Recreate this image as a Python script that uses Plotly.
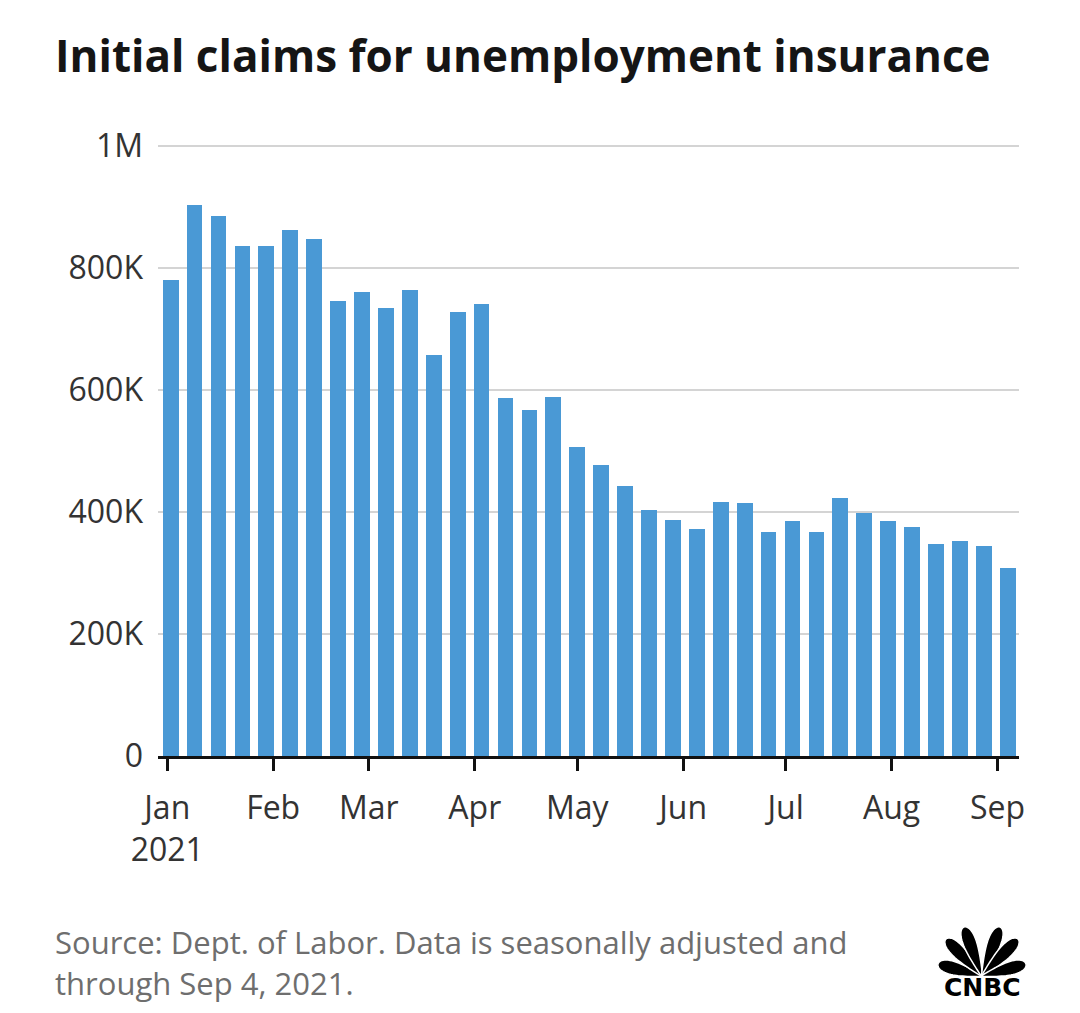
import numpy as np
import plotly.graph_objects as go

# ---- data ----
week_ending = [
    "2021-01-02", "2021-01-09", "2021-01-16", "2021-01-23", "2021-01-30",
    "2021-02-06", "2021-02-13", "2021-02-20", "2021-02-27",
    "2021-03-06", "2021-03-13", "2021-03-20", "2021-03-27",
    "2021-04-03", "2021-04-10", "2021-04-17", "2021-04-24",
    "2021-05-01", "2021-05-08", "2021-05-15", "2021-05-22", "2021-05-29",
    "2021-06-05", "2021-06-12", "2021-06-19", "2021-06-26",
    "2021-07-03", "2021-07-10", "2021-07-17", "2021-07-24", "2021-07-31",
    "2021-08-07", "2021-08-14", "2021-08-21", "2021-08-28",
    "2021-09-04",
]
claims = [
    780000, 904000, 886000, 836000, 836000,
    862000, 848000, 746000, 761000,
    734000, 764000, 657000, 728000,
    741000, 587000, 567000, 589000,
    507000, 477000, 443000, 403000, 387000,
    372000, 416000, 415000, 367000,
    385000, 367000, 423000, 398000, 385000,
    375000, 348000, 352000, 344000,
    308000,
]
x_tick_vals = ["2021-01-01", "2021-02-01", "2021-03-01", "2021-04-01", "2021-05-01",
               "2021-06-01", "2021-07-01", "2021-08-01", "2021-09-01"]
x_tick_text = ["Jan<br>2021", "Feb", "Mar", "Apr", "May", "Jun", "Jul", "Aug", "Sep"]
y_tick_vals = [0, 200000, 400000, 600000, 800000, 1000000]
y_tick_text = ["0", "200K", "400K", "600K", "800K", "1M"]

title_text = "Initial claims for unemployment insurance"
source_line1 = "Source: Dept. of Labor. Data is seasonally adjusted and"
source_line2 = "through Sep 4, 2021."

# ---- layout geometry ----
OFF = 8                      # default page body margin
W, H = 1080 - OFF, 1013 - OFF
L, R, T, B = 150, 61, 132, 257
PW, PH = W - L - R, H - T - B
Y_TOP = 1000000 * PH / 610.0   # so that 1M sits a few px below plot top

def px(xs):
    """screen x pixel -> paper x"""
    return (xs - OFF - L) / PW

def py(ys):
    """screen y pixel -> paper y"""
    return (H - B - (ys - OFF)) / PH

FONT = "'Open Sans', Lato, sans-serif"

fig = go.Figure()
fig.add_trace(go.Bar(
    x=week_ending, y=claims,
    marker=dict(color="#4A99D5", line=dict(width=0)),
    width=4.6 * 86400000,
    hoverinfo="x+y",
))

fig.update_layout(
    width=W, height=H,
    margin=dict(l=L, r=R, t=T, b=B, pad=0),
    paper_bgcolor="white", plot_bgcolor="white",
    showlegend=False,
    font=dict(family=FONT, color="#333333", size=32),
    xaxis=dict(
        type="date",
        range=["2020-12-29 07:00", "2021-09-07 07:00"],
        tickvals=x_tick_vals, ticktext=x_tick_text,
        ticks="outside", ticklen=12, tickwidth=2.5, tickcolor="#111111",
        showline=True, linecolor="#111111", linewidth=3,
        showgrid=False, zeroline=False,
        tickfont=dict(size=32, color="#333333", family=FONT),
        ticklabelstandoff=10,
    ),
    yaxis=dict(
        range=[0, Y_TOP],
        tickvals=y_tick_vals, ticktext=y_tick_text,
        showgrid=True, gridcolor="#D4D4D4", gridwidth=2,
        zeroline=False, showline=False, ticks="",
        tickfont=dict(size=32, color="#333333", family=FONT),
        ticklabelstandoff=14,
    ),
    bargap=0,
)

annotations = [
    dict(text="<b>" + title_text + "</b>", x=px(53), y=py(55), xref="paper", yref="paper",
         xanchor="left", yanchor="middle", showarrow=False,
         font=dict(family=FONT, size=44, color="#151515")),
    dict(text=source_line1, x=px(53), y=py(942), xref="paper", yref="paper",
         xanchor="left", yanchor="middle", align="left", showarrow=False,
         font=dict(family=FONT, size=31, color="#6E6E6E")),
    dict(text=source_line2, x=px(53), y=py(983), xref="paper", yref="paper",
         xanchor="left", yanchor="middle", align="left", showarrow=False,
         font=dict(family=FONT, size=31, color="#6E6E6E")),
    dict(text="<b>CNBC</b>", x=px(982), y=py(987), xref="paper", yref="paper",
         xanchor="center", yanchor="middle", showarrow=False,
         font=dict(family="'DejaVu Sans', sans-serif", size=25, color="#000000")),
]
fig.update_layout(annotations=annotations)

# CNBC peacock logo approximation (feathers as teardrops)
base = (982.0, 976.0)
tips = [(938, 964), (946, 939), (964, 927), (1000, 927), (1018, 939), (1026, 964)]
shapes = []
for tx, ty in tips:
    dx, dy = tx - base[0], ty - base[1]
    length = np.hypot(dx, dy)
    ang = np.arctan2(dy, dx)
    t = np.linspace(0, 2 * np.pi, 60)
    u = (1 - np.cos(t)) / 2            # 0 at base, 1 at tip
    half_w = 9.5 * np.sin(t) * (0.25 + 0.75 * u)
    along = u * length
    xs = base[0] + along * np.cos(ang) - half_w * np.sin(ang)
    ys = base[1] + along * np.sin(ang) + half_w * np.cos(ang)
    path = "M " + " L ".join(f"{px(x):.5f},{py(y):.5f}" for x, y in zip(xs, ys)) + " Z"
    shapes.append(dict(type="path", path=path, xref="paper", yref="paper",
                       fillcolor="#000000", line=dict(color="white", width=1.5), layer="above"))
fig.update_layout(shapes=shapes)

fig.write_html("out.html")
